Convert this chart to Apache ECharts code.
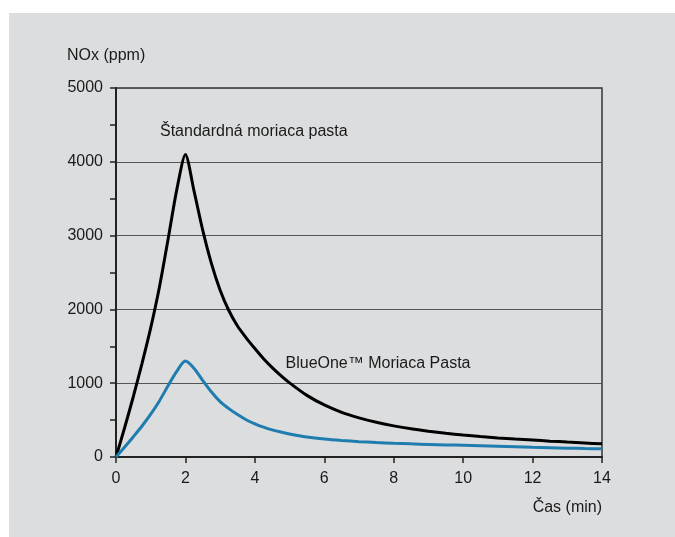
<!DOCTYPE html>
<html>
<head>
<meta charset="utf-8">
<script src="https://cdn.jsdelivr.net/npm/echarts@6/dist/echarts.min.js"></script>
<style>
html,body{margin:0;padding:0;background:#fff;}
#c{width:675px;height:537px;}
</style>
</head>
<body>
<div id="c"></div>
<script>
// Time (min) and NOx (ppm)
const timePoints = [0, 0.25, 0.5, 0.75, 1, 1.25, 1.5, 1.75, 2, 2.25, 2.5, 2.75, 3, 3.25, 3.5, 3.75, 4, 4.25, 4.5, 4.75, 5,
                    5.5, 6, 6.5, 7, 7.5, 8, 8.5, 9, 9.5, 10, 10.5, 11, 11.5, 12, 12.5, 13, 13.5, 14];
const standardNOx = [0, 400, 820, 1270, 1750, 2300, 2950, 3620, 4100, 3600, 3070, 2620, 2260, 1985, 1775, 1615, 1470, 1332, 1212, 1104, 1005,
                     835, 705, 605, 530, 470, 422, 382, 350, 322, 298, 277, 259, 243, 229, 215, 202, 190, 178];
const blueNOx = [0, 135, 275, 420, 580, 760, 965, 1160, 1300, 1200, 1035, 880, 750, 655, 575, 505, 450, 405, 368, 338, 312,
                 272, 244, 224, 208, 196, 186, 178, 171, 164, 158, 152, 146, 139, 132, 126, 120, 115, 111];

const xTicks = [0, 2, 4, 6, 8, 10, 12, 14];
const yTicks = [0, 1000, 2000, 3000, 4000, 5000];

const labels = {
  yTitle: 'NOx (ppm)',
  xTitle: 'Čas (min)',
  standard: 'Štandardná moriaca pasta',
  blue: 'BlueOne™ Moriaca Pasta'
};

const FONT = '"Liberation Sans", Arial, sans-serif';
const TXT = '#1a1a1a';
const chart = echarts.init(document.getElementById('c'), null, {renderer: 'canvas'});

function pairs(xs, ys){ return xs.map((x,i)=>[x, ys[i]]); }
function txt(x, y, s, align){
  return {type:'text', x:x, y:y, z:10, style:{text:s, font:'16px '+FONT, fill:TXT, align:align||'left', verticalAlign:'middle'}};
}

chart.setOption({
  backgroundColor: '#ffffff',
  animation: false,
  graphic: [
    {type:'rect', z:-10, shape:{x:9, y:13, width:666, height:524}, style:{fill:'#dcdddf'}},
    txt(67, 56, labels.yTitle),
    txt(602, 508, labels.xTitle, 'right'),
    txt(160, 131.5, labels.standard),
    txt(285.5, 363.5, labels.blue)
  ],
  grid: {left:116, right:73, top:88, bottom:80, show:true, borderColor:'#333', borderWidth:1.5, backgroundColor:'transparent'},
  xAxis: {
    type:'value', min:xTicks[0], max:xTicks[xTicks.length-1], interval:2,
    axisLine:{show:true, lineStyle:{color:'#222', width:2}},
    axisTick:{show:true, inside:false, length:6, lineStyle:{color:'#222', width:1.5}},
    axisLabel:{color:TXT, fontSize:16, fontFamily:FONT, margin:14},
    splitLine:{show:false}
  },
  yAxis: {
    type:'value', min:yTicks[0], max:yTicks[yTicks.length-1], interval:1000,
    axisLine:{show:true, lineStyle:{color:'#222', width:2}},
    axisTick:{show:true, inside:false, length:6, lineStyle:{color:'#222', width:1.5}},
    minorTick:{show:true, splitNumber:2, length:6, lineStyle:{color:'#222', width:1.5}},
    axisLabel:{color:TXT, fontSize:16, fontFamily:FONT, margin:13, formatter:function(v){return String(v);}},
    splitLine:{show:true, lineStyle:{color:'#555', width:1.2}}
  },
  series: [
    {type:'line', name:labels.standard, data:pairs(timePoints, standardNOx), smooth:0.25, showSymbol:false,
     lineStyle:{color:'#000', width:3}, z:3},
    {type:'line', name:labels.blue, data:pairs(timePoints, blueNOx), smooth:0.3, showSymbol:false,
     lineStyle:{color:'#1f7cae', width:3}, z:4}
  ]
});
</script>
</body>
</html>
